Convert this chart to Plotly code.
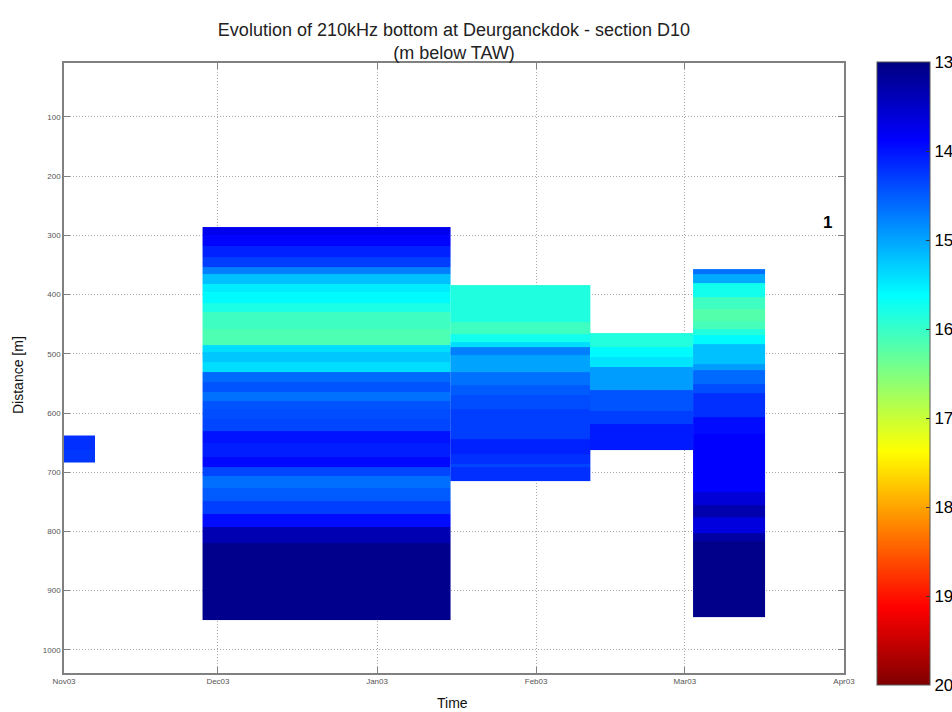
import plotly.graph_objects as go

# ---------------- data ----------------
# survey periods (start / end of each survey column)
survey_start = ["2003-11-01", "2003-11-28", "2004-01-15 07:00", "2004-02-11 12:00", "2004-03-02 14:00"]
survey_end = ["2003-11-07", "2004-01-15 07:00", "2004-02-11 12:00", "2004-03-02 14:00", "2004-03-16 17:00"]

# distance band edges [m] and bottom level [m below TAW] per survey
s1_edges = [638, 661, 683]
s1_depth = [14.2, 14.25]

s2_edges = [286, 300, 318, 337, 354, 365, 382, 396, 415, 430,
            458, 486, 497, 514, 531, 548, 565, 579, 593, 610,
            630, 650, 675, 692, 706, 726, 748, 771, 793, 819, 950]
s2_depth = [13.75, 13.9, 14.1, 14.3, 14.75, 15.2, 15.5, 15.6, 15.8, 16.05,
            16.15, 15.4, 15.25, 15.4, 14.6, 14.45, 14.65, 14.45, 14.4, 14.35,
            14.0, 14.08, 13.93, 14.35, 14.63, 14.5, 14.3, 13.95, 13.35, 13.08]

s3_edges = [384, 446, 466, 480, 488, 503, 531, 553, 570, 593, 619, 644, 669, 686, 692, 715]
s3_depth = [15.84, 16.05, 15.75, 15.4, 14.75, 15.0, 14.65, 14.5, 14.4, 14.3, 14.3, 14.1, 14.2, 14.35, 14.2]

s4_edges = [465, 489, 505, 522, 562, 596, 618, 662]
s4_depth = [15.85, 15.6, 15.45, 14.95, 14.45, 14.3, 14.05]

s5_edges = [357, 365, 381, 404, 424, 444, 458, 469, 483, 517,
            528, 551, 567, 607, 635, 734, 756, 776, 802, 816, 945]
s5_depth = [14.65, 15.05, 15.75, 16.05, 16.2, 16.1, 15.85, 15.6, 15.2, 14.95,
            14.6, 14.4, 14.2, 13.95, 13.87, 13.6, 13.3, 13.65, 13.25, 13.07]

x_tick_dates = ["2003-11-01", "2003-12-01", "2004-01-01", "2004-02-01", "2004-03-01", "2004-04-01"]
x_tick_labels = ["Nov03", "Dec03", "Jan03", "Feb03", "Mar03", "Apr03"]
y_tick_vals = [100, 200, 300, 400, 500, 600, 700, 800, 900, 1000]
cbar_vals = [13, 14, 15, 16, 17, 18, 19, 20]

all_edges = [s1_edges, s2_edges, s3_edges, s4_edges, s5_edges]
all_depth = [s1_depth, s2_depth, s3_depth, s4_depth, s5_depth]

# MATLAB "jet", reversed so that 13 (shallow) sits at the top of the colorbar
jet_rev = [[0.0, "rgb(128,0,0)"], [0.125, "rgb(255,0,0)"], [0.375, "rgb(255,255,0)"],
           [0.625, "rgb(0,255,255)"], [0.875, "rgb(0,0,255)"], [1.0, "rgb(0,0,128)"]]

FONT = "Liberation Sans, Arial, sans-serif"

fig = go.Figure()
for st, en, ed, dp in zip(survey_start, survey_end, all_edges, all_depth):
    fig.add_trace(go.Heatmap(
        x=[st, en], y=ed, z=[[-v] for v in dp],
        coloraxis="coloraxis", hoverinfo="skip",
    ))

axis_common = dict(
    showline=True, linecolor="#808080", linewidth=1.5, mirror="ticks",
    ticks="inside", ticklen=6, tickcolor="#808080",
    showgrid=True, gridcolor="#a8a8a8", griddash="1px,2px", gridwidth=1,
    zeroline=False, tickfont=dict(family=FONT, size=8, color="#555555"),
)

fig.update_layout(
    width=952, height=712,
    margin=dict(l=64, r=108, t=63, b=39, autoexpand=False),
    paper_bgcolor="white", plot_bgcolor="white",
    font=dict(family=FONT),
    title=dict(
        text="Evolution of 210kHz bottom at Deurganckdok - section D10<br>(m below TAW)",
        x=0.5, xref="paper", xanchor="center",
        y=1 - 35.5 / 712, yref="container", yanchor="middle",
        font=dict(family=FONT, size=18, color="#222222"),
    ),
    xaxis=dict(
        type="date", range=["2003-11-01", "2004-04-01"],
        tickmode="array", tickvals=x_tick_dates, ticktext=x_tick_labels,
        **axis_common,
    ),
    yaxis=dict(
        range=[1039, 9], tickmode="array", tickvals=y_tick_vals,
        ticktext=[str(v) for v in y_tick_vals],
        **axis_common,
    ),
    coloraxis=dict(
        colorscale=jet_rev, cmin=-20, cmax=-13,
        colorbar=dict(
            thickness=53, thicknessmode="pixels",
            len=623, lenmode="pixels",
            x=(877 - 64) / 780, xanchor="left", xref="paper",
            y=(673 - 373.5) / 610, yanchor="middle", yref="paper",
            xpad=0, ypad=0,
            outlinewidth=1, outlinecolor="#555555",
            ticks="inside", ticklen=4, tickcolor="#333333",
            tickmode="array", tickvals=[-v for v in cbar_vals],
            ticktext=[str(v) for v in cbar_vals],
            tickfont=dict(family=FONT, size=17, color="black"),
        ),
    ),
    annotations=[
        dict(text="Distance [m]", xref="paper", yref="paper",
             x=(18 - 64) / 780, y=(673 - 375) / 610, textangle=-90,
             showarrow=False, font=dict(family=FONT, size=14, color="#111111"),
             xanchor="center", yanchor="middle"),
        dict(text="Time", xref="paper", yref="paper",
             x=(452 - 64) / 780, y=(673 - 703) / 610,
             showarrow=False, font=dict(family=FONT, size=14, color="#111111"),
             xanchor="center", yanchor="middle"),
        dict(text="<b>1</b>", xref="paper", yref="y",
             x=(834 - 64) / 780, y=278, showarrow=False,
             font=dict(family=FONT, size=17, color="black"),
             xanchor="right", yanchor="middle"),
    ],
)

fig.write_html(
    "out.html",
    config={"displayModeBar": False},
    post_script="document.body.style.margin='0px';document.body.style.padding='0px';",
)
